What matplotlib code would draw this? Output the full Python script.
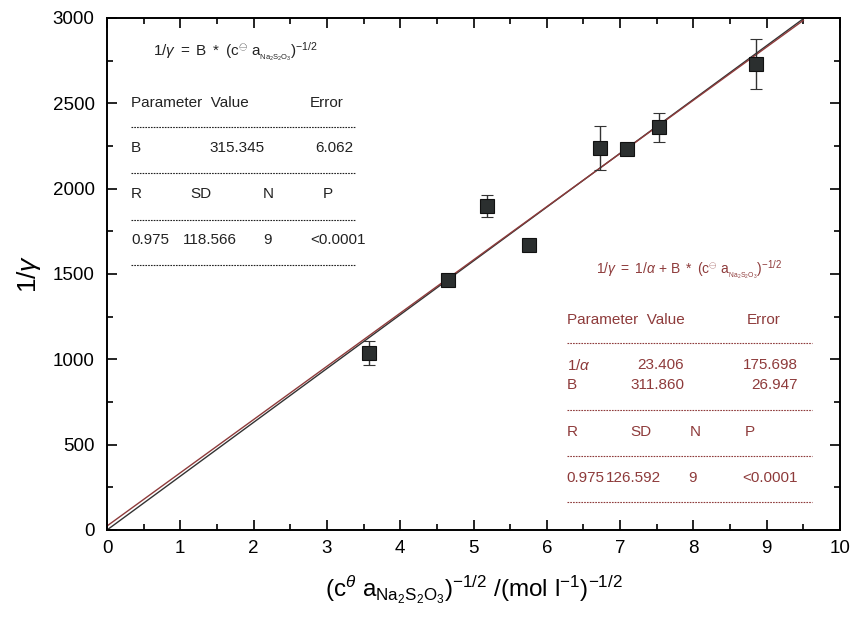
import matplotlib
matplotlib.use("Agg")
import matplotlib.pyplot as plt
from matplotlib.lines import Line2D
import numpy as np

plt.rcParams['font.family'] = ['Liberation Sans', 'DejaVu Sans']
plt.rcParams['mathtext.fontset'] = 'custom'
plt.rcParams['mathtext.rm'] = 'Liberation Sans'
plt.rcParams['mathtext.it'] = 'Liberation Sans:italic'
plt.rcParams['mathtext.sf'] = 'Liberation Sans'

# data
x_vals = [3.57, 4.65, 5.18, 5.76, 6.73, 7.10, 7.53, 8.85]
y_vals = [1035, 1465, 1900, 1670, 2238, 2235, 2360, 2730]
y_err = [70, 15, 65, 0, 130, 0, 85, 145]

B1 = 315.345
inv_alpha = 23.406
B2 = 311.860
x_fit_end = 9.5

xticks = [0, 1, 2, 3, 4, 5, 6, 7, 8, 9, 10]
yticks = [0, 500, 1000, 1500, 2000, 2500, 3000]

red = '#8e3b3b'

fig = plt.figure(figsize=(8.55, 6.27), dpi=100)
ax = fig.add_axes([107/855, 1-530/627, (840-107)/855, (530-18)/627])

xf = np.array([0, x_fit_end])
ax.plot(xf, B1*xf, color='#333333', lw=1.0, zorder=2)
ax.plot(xf, inv_alpha + B2*xf, color=red, lw=1.0, zorder=2)

ax.errorbar(x_vals, y_vals, yerr=y_err, fmt='s', ms=9.5, mfc='#2b2f2f',
            mec='#111111', mew=0.8, ecolor='#333333', elinewidth=1.0,
            capsize=4.5, capthick=1.0, zorder=3)

ax.set_xlim(0, 10)
ax.set_ylim(0, 3000)
ax.set_xticks(xticks)
ax.set_yticks(yticks)
ax.set_xticks(np.arange(0.5, 10, 1.0), minor=True)
ax.set_yticks(np.arange(250, 3000, 500), minor=True)
ax.tick_params(which='both', direction='in', top=True, right=True, labelsize=13.5, width=1.2)
ax.tick_params(which='major', length=7)
ax.tick_params(axis='x', which='major', pad=7)
ax.tick_params(axis='y', which='major', pad=9)
ax.tick_params(which='minor', length=4)
for s in ax.spines.values():
    s.set_linewidth(1.4)

ax.set_xlabel(r'$(\mathrm{c}^{\theta}\ \mathrm{a}_{\mathrm{Na_2S_2O_3}})^{\mathrm{-1/2}}\ \mathrm{/(mol\ l^{-1})^{-1/2}}$',
              fontsize=17.5, labelpad=12)
ax.set_ylabel(r'$\mathrm{1/}\gamma$', fontsize=19, labelpad=7)

def px(xp, yp):
    return (xp/855, 1 - yp/627)

def t(xp, yp, s, color, size=11, ha='left'):
    fig.text(*px(xp, yp), s, color=color, fontsize=size, ha=ha, va='center')

def dline(x0, x1, yp, color):
    fig.add_artist(Line2D([x0/855, x1/855], [1-yp/627, 1-yp/627],
                          transform=fig.transFigure, color=color, lw=0.8,
                          linestyle=(0, (1.5, 1.0))))

# top-left inset (black)
k = '#222222'
t(153, 52, r'$\mathrm{1/}\gamma\ \mathrm{=\ B\ *\ (c^{\ominus}\ a_{_{Na_2S_2O_3}})^{-1/2}}$', k, size=11)
t(131, 103, 'Parameter  Value', k)
t(310, 103, 'Error', k)
dline(131, 355, 127, k)
t(131, 148, 'B', k)
t(265, 148, '315.345', k, ha='right')
t(353, 148, '6.062', k, ha='right')
dline(131, 355, 173, k)
t(131, 194, 'R', k)
t(190, 194, 'SD', k)
t(263, 194, 'N', k)
t(323, 194, 'P', k)
dline(131, 355, 220, k)
t(131, 240, '0.975', k)
t(183, 240, '118.566', k)
t(263, 240, '9', k)
t(310, 240, '<0.0001', k)
dline(131, 355, 265, k)

# bottom-right inset (red)
t(596, 270, r'$\mathrm{1/}\gamma\ \mathrm{=\ 1/}\alpha\ \mathrm{+\ B\ *\ (c^{\ominus}\ a_{_{Na_2S_2O_3}})^{-1/2}}$', red, size=10)
t(567, 320, 'Parameter  Value', red)
t(747, 320, 'Error', red)
dline(567, 812, 343, red)
t(567, 365, r'1/$\alpha$', red)
t(684, 365, '23.406', red, ha='right')
t(798, 365, '175.698', red, ha='right')
t(567, 385, 'B', red)
t(684, 385, '311.860', red, ha='right')
t(798, 385, '26.947', red, ha='right')
dline(567, 812, 410, red)
t(567, 432, 'R', red)
t(630, 432, 'SD', red)
t(690, 432, 'N', red)
t(745, 432, 'P', red)
dline(567, 812, 456, red)
t(566, 478, '0.975', red)
t(606, 478, '126.592', red)
t(688, 478, '9', red)
t(742, 478, '<0.0001', red)
dline(567, 812, 502, red)

fig.savefig('out.png', dpi=100)
